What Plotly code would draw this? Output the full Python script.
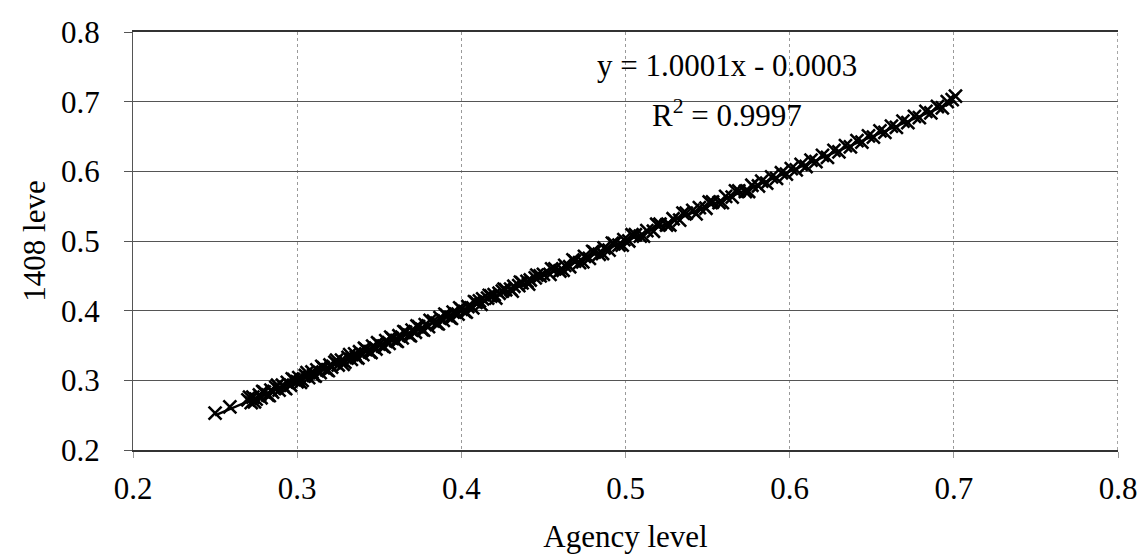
import plotly.graph_objects as go

# ---- data ----
agency_level = [
    0.250, 0.259,
    0.270, 0.272, 0.273, 0.275, 0.277, 0.278, 0.280, 0.282, 0.284, 0.285,
    0.287, 0.289, 0.291, 0.292, 0.294, 0.296, 0.298, 0.300, 0.301, 0.303,
    0.305, 0.307, 0.309, 0.310, 0.312, 0.314, 0.316, 0.318, 0.320, 0.321,
    0.323, 0.325, 0.327, 0.329, 0.331, 0.333, 0.335, 0.336, 0.338, 0.340,
    0.342, 0.344, 0.346, 0.348, 0.350, 0.352, 0.354, 0.356, 0.358, 0.360,
    0.362, 0.364, 0.366, 0.368, 0.370, 0.372, 0.374, 0.376, 0.378, 0.380,
    0.383, 0.385, 0.387, 0.389, 0.391, 0.393, 0.395, 0.398, 0.400, 0.402,
    0.404, 0.407, 0.409, 0.411, 0.413, 0.416, 0.418, 0.420, 0.423, 0.425,
    0.427, 0.430, 0.432, 0.435, 0.437, 0.440, 0.442, 0.445, 0.448, 0.450,
    0.454, 0.457, 0.460, 0.463, 0.466, 0.469, 0.472, 0.475, 0.478, 0.481,
    0.484, 0.487, 0.490, 0.493, 0.496, 0.499, 0.502, 0.506, 0.509, 0.513,
    0.517, 0.521, 0.525, 0.529, 0.533, 0.537, 0.541, 0.545, 0.549, 0.553,
    0.557, 0.561, 0.565, 0.569, 0.573, 0.577, 0.581,
    0.583, 0.586, 0.589, 0.592, 0.595, 0.598, 0.601, 0.604, 0.607, 0.610,
    0.613, 0.616, 0.620, 0.623, 0.627, 0.630, 0.634, 0.637, 0.641, 0.644,
    0.648, 0.651, 0.655, 0.658, 0.662, 0.665, 0.669, 0.672, 0.676, 0.679,
    0.683, 0.686, 0.690, 0.693, 0.696, 0.699, 0.701,
    0.271, 0.274, 0.279, 0.283, 0.288, 0.293, 0.297, 0.302, 0.306, 0.311,
    0.315, 0.319, 0.324, 0.328, 0.332, 0.337, 0.341, 0.345, 0.349, 0.353,
    0.357, 0.361, 0.365, 0.369, 0.373, 0.377, 0.381, 0.386, 0.390, 0.394,
    0.399, 0.403, 0.408, 0.412, 0.417, 0.421, 0.426, 0.431, 0.436, 0.441,
    0.446,
    0.455, 0.462, 0.468, 0.474, 0.480, 0.486, 0.492, 0.498, 0.504, 0.511,
    0.519, 0.527, 0.535, 0.543, 0.551, 0.559, 0.567, 0.575,
]
level_1408 = [
    0.253, 0.262,
    0.272, 0.268, 0.276, 0.273, 0.279, 0.275, 0.283, 0.279, 0.286, 0.283,
    0.290, 0.286, 0.293, 0.290, 0.297, 0.293, 0.301, 0.298, 0.304, 0.300,
    0.307, 0.304, 0.312, 0.307, 0.315, 0.311, 0.318, 0.315, 0.322, 0.319,
    0.326, 0.322, 0.329, 0.326, 0.333, 0.330, 0.338, 0.333, 0.341, 0.337,
    0.344, 0.341, 0.349, 0.345, 0.352, 0.349, 0.357, 0.353, 0.360, 0.357,
    0.364, 0.361, 0.369, 0.365, 0.372, 0.369, 0.377, 0.373, 0.380, 0.377,
    0.385, 0.382, 0.390, 0.386, 0.393, 0.390, 0.398, 0.395, 0.402, 0.399,
    0.406, 0.404, 0.412, 0.414, 0.417, 0.418, 0.421, 0.423, 0.425, 0.428,
    0.430, 0.431, 0.435, 0.436, 0.440, 0.442, 0.444, 0.447, 0.450, 0.452,
    0.452, 0.460, 0.457, 0.465, 0.463, 0.471, 0.469, 0.478, 0.475, 0.484,
    0.481, 0.490, 0.487, 0.496, 0.494, 0.502, 0.500, 0.509, 0.507, 0.515,
    0.514, 0.524, 0.523, 0.532, 0.530, 0.540, 0.544, 0.548, 0.547, 0.556,
    0.555, 0.564, 0.563, 0.572, 0.571, 0.580, 0.579,
    0.586, 0.583, 0.592, 0.590, 0.598, 0.596, 0.604, 0.602, 0.610, 0.607,
    0.616, 0.614, 0.623, 0.620, 0.630, 0.628, 0.637, 0.635, 0.644, 0.642,
    0.651, 0.649, 0.658, 0.656, 0.665, 0.663, 0.672, 0.670, 0.679, 0.677,
    0.686, 0.684, 0.693, 0.691, 0.700, 0.703, 0.708,
    0.276, 0.269, 0.284, 0.278, 0.293, 0.288, 0.302, 0.297, 0.311, 0.306,
    0.320, 0.314, 0.329, 0.323, 0.337, 0.332, 0.346, 0.340, 0.354, 0.348,
    0.362, 0.356, 0.370, 0.364, 0.378, 0.372, 0.386, 0.381, 0.395, 0.389,
    0.404, 0.398, 0.413, 0.409, 0.422, 0.418, 0.431, 0.428, 0.441, 0.438,
    0.451,
    0.460, 0.458, 0.473, 0.470, 0.485, 0.482, 0.497, 0.494, 0.509, 0.507,
    0.524, 0.523, 0.540, 0.539, 0.556, 0.555, 0.572, 0.571,
]

trend_slope = 1.0001
trend_intercept = -0.0003
trend_x = [min(agency_level), max(agency_level)]
trend_y = [trend_slope * v + trend_intercept for v in trend_x]

equation_text = "y = 1.0001x - 0.0003"
r2_text = "R<sup>2</sup> = 0.9997"
x_ticks = [0.2, 0.3, 0.4, 0.5, 0.6, 0.7, 0.8]
y_ticks = [0.2, 0.3, 0.4, 0.5, 0.6, 0.7, 0.8]

FONT = "Liberation Serif, Times New Roman, serif"

fig = go.Figure()
fig.add_trace(go.Scatter(
    x=agency_level, y=level_1408, mode="markers",
    marker=dict(symbol="x-thin", size=13, color="black",
                line=dict(color="black", width=2.6)),
    showlegend=False, hoverinfo="x+y",
))
fig.add_trace(go.Scatter(
    x=trend_x, y=trend_y, mode="lines",
    line=dict(color="black", width=2.5),
    showlegend=False, hoverinfo="skip",
))

fig.update_layout(
    width=1143, height=560,
    margin=dict(l=133, r=25, t=32, b=110),
    paper_bgcolor="white", plot_bgcolor="white",
    font=dict(family=FONT, size=31, color="black"),
    xaxis=dict(
        range=[0.2, 0.8], tickvals=x_ticks, tickformat=".1f",
        tickfont=dict(size=31, family=FONT),
        showgrid=True, gridcolor="#9a9a9a", griddash="dot", gridwidth=1,
        showline=True, linecolor="#333333", linewidth=1.5, mirror=True,
        ticks="outside", ticklen=6, tickcolor="#9a9a9a",
        ticklabelstandoff=4, zeroline=False, automargin=False,
        title=dict(text="Agency level", font=dict(size=31, family=FONT), standoff=20),
    ),
    yaxis=dict(
        range=[0.2, 0.8], tickvals=y_ticks, tickformat=".1f",
        tickfont=dict(size=31, family=FONT),
        showgrid=True, gridcolor="#555555", gridwidth=1.3,
        showline=True, linecolor="#555555", linewidth=1.3,
        ticks="outside", ticklen=8, tickcolor="#555555",
        ticklabelstandoff=18, zeroline=False, automargin=False,
        title=dict(text="1408 leve", font=dict(size=31, family=FONT), standoff=6),
    ),
    shapes=[dict(type="line", xref="x", yref="y", x0=0.8, x1=0.8, y0=0.2, y1=0.8,
                 line=dict(color="#777777", width=1.3, dash="dot"))],
    annotations=[
        dict(x=0.562, y=0.752, xref="x", yref="y", text=equation_text,
             showarrow=False, font=dict(size=31, family=FONT)),
        dict(x=0.562, y=0.683, xref="x", yref="y", text=r2_text,
             showarrow=False, font=dict(size=31, family=FONT)),
    ],
)

fig.write_html("out.html")
